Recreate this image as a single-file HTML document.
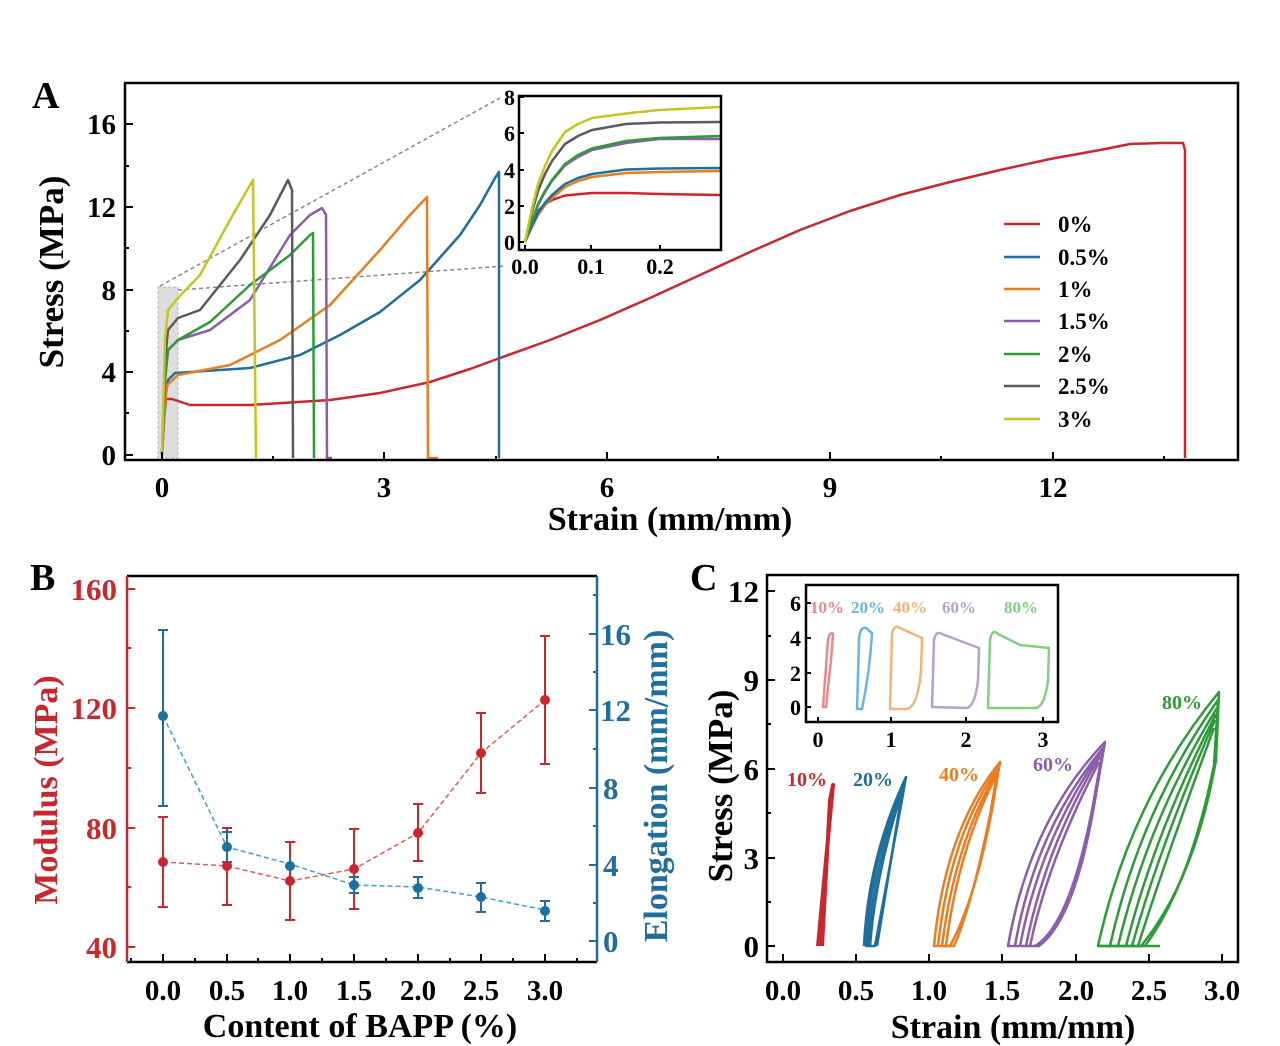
<!DOCTYPE html>
<html><head><meta charset="utf-8"><style>
body{margin:0;background:#fff}
svg{display:block}
text{font-family:"Liberation Serif",serif;font-weight:bold}
</style></head><body>
<svg width="1280" height="1046" viewBox="0 0 1280 1046" xmlns="http://www.w3.org/2000/svg">
<rect width="1280" height="1046" fill="#fff"/>
<!-- ===== Panel A ===== -->
<text x="32" y="108" font-size="38">A</text>
<rect x="158" y="287" width="20" height="171" fill="#ddd" stroke="#bbb" stroke-dasharray="3,2"/>
<line x1="160" y1="286" x2="500" y2="98" stroke="#888" stroke-width="1.5" stroke-dasharray="4,3"/>
<line x1="178" y1="290" x2="505" y2="266" stroke="#888" stroke-width="1.5" stroke-dasharray="4,3"/>
<g fill="none" stroke-width="2.5" stroke-linejoin="round">
<path stroke="#c8282d" d="M162,455 L164,420 L166,399 L172,399 L190,405 L250,405 L330,400 L380,393 L430,382 L470,369 L500,358 L550,340 L600,320 L650,298 L700,275 L750,252 L800,230 L850,211 L900,195 L950,182 L1000,170 L1050,159 L1100,150 L1130,144 L1160,143 L1183,143 L1185,150 L1185,458"/>
<path stroke="#1f6e9c" d="M162,455 L165,400 L168,380 L175,373 L250,368 L300,355 L340,335 L380,312 L420,280 L460,235 L480,205 L495,178 L499,172 L499,458"/>
<path stroke="#e87d22" d="M162,455 L165,405 L167,385 L178,375 L230,365 L280,340 L330,305 L380,250 L410,215 L427,197 L428,458 L438,458"/>
<path stroke="#8a5ea8" d="M162,455 L165,380 L168,350 L178,340 L210,330 L250,300 L290,235 L310,215 L322,208 L326,215 L327,458 L332,458"/>
<path stroke="#2e9a3a" d="M162,455 L165,380 L168,350 L178,340 L210,322 L250,285 L290,255 L310,235 L313,233 L314,458"/>
<path stroke="#5a5a5a" d="M162,455 L165,360 L168,330 L178,318 L200,310 L240,260 L270,215 L288,180 L292,190 L293,458"/>
<path stroke="#c5c520" d="M162,455 L165,340 L168,310 L178,298 L200,275 L230,220 L250,185 L253,180 L256,458"/>
</g>
<rect x="125" y="83" width="1113" height="377" fill="none" stroke="#000" stroke-width="2.5"/>
<g stroke="#000" stroke-width="2">
<line x1="162" y1="460" x2="162" y2="452"/><line x1="384" y1="460" x2="384" y2="452"/><line x1="607" y1="460" x2="607" y2="452"/><line x1="830" y1="460" x2="830" y2="452"/><line x1="1053" y1="460" x2="1053" y2="452"/>
<line x1="273" y1="460" x2="273" y2="456"/><line x1="496" y1="460" x2="496" y2="456"/><line x1="718" y1="460" x2="718" y2="456"/><line x1="941" y1="460" x2="941" y2="456"/><line x1="1164" y1="460" x2="1164" y2="456"/>
<line x1="125" y1="455" x2="133" y2="455"/><line x1="125" y1="372" x2="133" y2="372"/><line x1="125" y1="290" x2="133" y2="290"/><line x1="125" y1="207" x2="133" y2="207"/><line x1="125" y1="124" x2="133" y2="124"/>
<line x1="125" y1="413" x2="129" y2="413"/><line x1="125" y1="331" x2="129" y2="331"/><line x1="125" y1="248" x2="129" y2="248"/><line x1="125" y1="166" x2="129" y2="166"/>
</g>
<g font-size="29" text-anchor="middle">
<text x="162" y="497">0</text><text x="384" y="497">3</text><text x="607" y="497">6</text><text x="830" y="497">9</text><text x="1053" y="497">12</text>
</g>
<g font-size="29" text-anchor="end">
<text x="116" y="465">0</text><text x="116" y="382">4</text><text x="116" y="300">8</text><text x="116" y="217">12</text><text x="116" y="134">16</text>
</g>
<text x="670" y="530" font-size="34" text-anchor="middle">Strain (mm/mm)</text>
<text transform="translate(63,272) rotate(-90)" font-size="35" text-anchor="middle">Stress (MPa)</text>
<!-- legend -->
<g stroke-width="2.5">
<line x1="1004" y1="224" x2="1040" y2="224" stroke="#c8282d"/>
<line x1="1004" y1="257" x2="1040" y2="257" stroke="#1f6e9c"/>
<line x1="1004" y1="289" x2="1040" y2="289" stroke="#e87d22"/>
<line x1="1004" y1="321" x2="1040" y2="321" stroke="#8a5ea8"/>
<line x1="1004" y1="354" x2="1040" y2="354" stroke="#2e9a3a"/>
<line x1="1004" y1="386" x2="1040" y2="386" stroke="#5a5a5a"/>
<line x1="1004" y1="419" x2="1040" y2="419" stroke="#c5c520"/>
</g>
<g font-size="23">
<text x="1058" y="232">0%</text><text x="1058" y="265">0.5%</text><text x="1058" y="297">1%</text><text x="1058" y="329">1.5%</text><text x="1058" y="362">2%</text><text x="1058" y="394">2.5%</text><text x="1058" y="427">3%</text>
</g>
<!-- inset A -->
<rect x="519" y="96" width="202" height="154" fill="#fff"/>
<g fill="none" stroke-width="2.5" stroke-linejoin="round">
<path stroke="#c8282d" d="M525,242 L532,223 L538,211 L545,204 L552,200 L565,195.5 L592,193 L626,193 L659,194 L720,195"/>
<path stroke="#e87d22" d="M525,242 L532,227 L538,215 L545,205 L552,198 L565,187 L578,181 L592,177 L626,173 L659,172 L720,171"/>
<path stroke="#1f6e9c" d="M525,242 L532,226 L538,213 L545,203 L552,195 L565,184 L578,178 L592,174 L626,169.5 L659,168.5 L720,168"/>
<path stroke="#8a5ea8" d="M525,242 L532,221.5 L538,205 L545,192 L552,181 L565,165.5 L578,157 L592,150 L626,143 L659,139 L720,139"/>
<path stroke="#2e9a3a" d="M525,242 L532,221 L538,204 L545,191 L552,180 L565,164 L578,155 L592,148.5 L626,141 L659,138 L720,136"/>
<path stroke="#5a5a5a" d="M525,242 L532,212 L538,191 L545,174 L552,161 L565,144 L578,136 L592,130 L626,124 L659,122.5 L720,122"/>
<path stroke="#c5c520" d="M525,242 L532,208.5 L538,184 L545,166 L552,151 L565,132 L578,124 L592,118 L626,113.5 L659,110 L720,107"/>
</g>
<rect x="519" y="96" width="202" height="154" fill="none" stroke="#000" stroke-width="2.5"/>
<g stroke="#000" stroke-width="2">
<line x1="525" y1="250" x2="525" y2="245"/><line x1="591" y1="250" x2="591" y2="245"/><line x1="660" y1="250" x2="660" y2="245"/>
<line x1="519" y1="242" x2="524" y2="242"/><line x1="519" y1="206" x2="524" y2="206"/><line x1="519" y1="170" x2="524" y2="170"/><line x1="519" y1="133" x2="524" y2="133"/><line x1="519" y1="97" x2="524" y2="97"/>
</g>
<g font-size="22" text-anchor="end">
<text x="515" y="250">0</text><text x="515" y="214">2</text><text x="515" y="178">4</text><text x="515" y="141">6</text><text x="515" y="105">8</text>
</g>
<g font-size="22" text-anchor="middle">
<text x="525" y="274">0.0</text><text x="591" y="274">0.1</text><text x="660" y="274">0.2</text>
</g>
<!-- ===== Panel B ===== -->
<text x="30" y="590" font-size="38">B</text>
<line x1="127" y1="576" x2="597" y2="576" stroke="#000" stroke-width="2.5"/>
<line x1="127" y1="962" x2="597" y2="962" stroke="#000" stroke-width="2.5"/>
<line x1="127" y1="576" x2="127" y2="962" stroke="#c8282d" stroke-width="2.5"/>
<line x1="597" y1="576" x2="597" y2="962" stroke="#1f6e9c" stroke-width="2.5"/>
<g stroke="#000" stroke-width="2">
<line x1="163" y1="962" x2="163" y2="954"/><line x1="227" y1="962" x2="227" y2="954"/><line x1="290" y1="962" x2="290" y2="954"/><line x1="354" y1="962" x2="354" y2="954"/><line x1="418" y1="962" x2="418" y2="954"/><line x1="481" y1="962" x2="481" y2="954"/><line x1="545" y1="962" x2="545" y2="954"/>
<line x1="195" y1="962" x2="195" y2="958"/><line x1="258" y1="962" x2="258" y2="958"/><line x1="322" y1="962" x2="322" y2="958"/><line x1="386" y1="962" x2="386" y2="958"/><line x1="450" y1="962" x2="450" y2="958"/><line x1="513" y1="962" x2="513" y2="958"/><line x1="577" y1="962" x2="577" y2="958"/><line x1="131" y1="962" x2="131" y2="958"/>
</g>
<g stroke="#c8282d" stroke-width="2">
<line x1="127" y1="947" x2="135" y2="947"/><line x1="127" y1="828" x2="135" y2="828"/><line x1="127" y1="708" x2="135" y2="708"/><line x1="127" y1="589" x2="135" y2="589"/>
<line x1="127" y1="887" x2="131" y2="887"/><line x1="127" y1="768" x2="131" y2="768"/><line x1="127" y1="648" x2="131" y2="648"/>
</g>
<g stroke="#1f6e9c" stroke-width="2">
<line x1="589" y1="941" x2="597" y2="941"/><line x1="589" y1="865" x2="597" y2="865"/><line x1="589" y1="788" x2="597" y2="788"/><line x1="589" y1="710" x2="597" y2="710"/><line x1="589" y1="634" x2="597" y2="634"/>
<line x1="593" y1="903" x2="597" y2="903"/><line x1="593" y1="826" x2="597" y2="826"/><line x1="593" y1="749" x2="597" y2="749"/><line x1="593" y1="672" x2="597" y2="672"/><line x1="593" y1="595" x2="597" y2="595"/>
</g>
<g font-size="29" text-anchor="middle">
<text x="163" y="1000">0.0</text><text x="227" y="1000">0.5</text><text x="290" y="1000">1.0</text><text x="354" y="1000">1.5</text><text x="418" y="1000">2.0</text><text x="481" y="1000">2.5</text><text x="545" y="1000">3.0</text>
</g>
<g font-size="31" text-anchor="end" fill="#c8282d">
<text x="117" y="958">40</text><text x="117" y="839">80</text><text x="117" y="719">120</text><text x="117" y="600">160</text>
</g>
<g font-size="31" fill="#1f6e9c">
<text x="603" y="952">0</text><text x="603" y="876">4</text><text x="603" y="799">8</text><text x="600" y="721">12</text><text x="600" y="645">16</text>
</g>
<text x="360" y="1037" font-size="34" text-anchor="middle">Content of BAPP (%)</text>
<text transform="translate(57,790) rotate(-90)" font-size="34" text-anchor="middle" fill="#c8282d">Modulus (MPa)</text>
<text transform="translate(667,786) rotate(-90)" font-size="34" text-anchor="middle" fill="#1f6e9c">Elongation (mm/mm)</text>
<polyline fill="none" stroke="#e05a5a" stroke-width="1.5" stroke-dasharray="5,3" points="163,862 227,866 290,881 354,869 418,833 481,753 545,700"/>
<polyline fill="none" stroke="#3aa0d8" stroke-width="1.5" stroke-dasharray="5,3" points="163,716 227,847 290,864 354,885 418,887 481,897 545,910"/>
<g stroke="#c8282d" stroke-width="2">
<line x1="163" y1="907" x2="163" y2="817"/><line x1="158" y1="907" x2="168" y2="907"/><line x1="158" y1="817" x2="168" y2="817"/>
<line x1="227" y1="905" x2="227" y2="828"/><line x1="222" y1="905" x2="232" y2="905"/><line x1="222" y1="828" x2="232" y2="828"/>
<line x1="290" y1="920" x2="290" y2="842"/><line x1="285" y1="920" x2="295" y2="920"/><line x1="285" y1="842" x2="295" y2="842"/>
<line x1="354" y1="909" x2="354" y2="829"/><line x1="349" y1="909" x2="359" y2="909"/><line x1="349" y1="829" x2="359" y2="829"/>
<line x1="418" y1="861" x2="418" y2="804"/><line x1="413" y1="861" x2="423" y2="861"/><line x1="413" y1="804" x2="423" y2="804"/>
<line x1="481" y1="793" x2="481" y2="713"/><line x1="476" y1="793" x2="486" y2="793"/><line x1="476" y1="713" x2="486" y2="713"/>
<line x1="545" y1="764" x2="545" y2="636"/><line x1="540" y1="764" x2="550" y2="764"/><line x1="540" y1="636" x2="550" y2="636"/>
</g>
<g stroke="#1f6e9c" stroke-width="2">
<line x1="163" y1="806" x2="163" y2="630"/><line x1="158" y1="806" x2="168" y2="806"/><line x1="158" y1="630" x2="168" y2="630"/>
<line x1="227" y1="862" x2="227" y2="832"/><line x1="222" y1="862" x2="232" y2="862"/><line x1="222" y1="832" x2="232" y2="832"/>
<line x1="290" y1="870" x2="290" y2="858"/>
<line x1="354" y1="893" x2="354" y2="877"/><line x1="349" y1="893" x2="359" y2="893"/><line x1="349" y1="877" x2="359" y2="877"/>
<line x1="418" y1="898" x2="418" y2="877"/><line x1="413" y1="898" x2="423" y2="898"/><line x1="413" y1="877" x2="423" y2="877"/>
<line x1="481" y1="912" x2="481" y2="883"/><line x1="476" y1="912" x2="486" y2="912"/><line x1="476" y1="883" x2="486" y2="883"/>
<line x1="545" y1="921" x2="545" y2="901"/><line x1="540" y1="921" x2="550" y2="921"/><line x1="540" y1="901" x2="550" y2="901"/>
</g>
<g fill="#c8282d">
<circle cx="163" cy="862" r="5"/><circle cx="227" cy="866" r="5"/><circle cx="290" cy="881" r="5"/><circle cx="354" cy="869" r="5"/><circle cx="418" cy="833" r="5"/><circle cx="481" cy="753" r="5"/><circle cx="545" cy="700" r="5"/>
</g>
<g fill="#1f6e9c">
<circle cx="163" cy="716" r="5"/><circle cx="227" cy="847" r="5"/><circle cx="290" cy="866" r="5"/><circle cx="354" cy="885" r="5"/><circle cx="418" cy="888" r="5"/><circle cx="481" cy="897" r="5"/><circle cx="545" cy="911" r="5"/>
</g>
<!-- ===== Panel C ===== -->
<text x="690" y="590" font-size="38">C</text>
<rect x="767" y="575" width="471" height="387" fill="none" stroke="#000" stroke-width="2.5"/>
<g stroke="#000" stroke-width="2">
<line x1="783" y1="962" x2="783" y2="954"/><line x1="856" y1="962" x2="856" y2="954"/><line x1="929" y1="962" x2="929" y2="954"/><line x1="1002" y1="962" x2="1002" y2="954"/><line x1="1076" y1="962" x2="1076" y2="954"/><line x1="1149" y1="962" x2="1149" y2="954"/><line x1="1222" y1="962" x2="1222" y2="954"/>
<line x1="767" y1="946" x2="775" y2="946"/><line x1="767" y1="858" x2="775" y2="858"/><line x1="767" y1="769" x2="775" y2="769"/><line x1="767" y1="680" x2="775" y2="680"/><line x1="767" y1="591" x2="775" y2="591"/>
<line x1="767" y1="902" x2="771" y2="902"/><line x1="767" y1="813" x2="771" y2="813"/><line x1="767" y1="724" x2="771" y2="724"/><line x1="767" y1="636" x2="771" y2="636"/>
</g>
<g font-size="29" text-anchor="middle">
<text x="783" y="1000">0.0</text><text x="856" y="1000">0.5</text><text x="929" y="1000">1.0</text><text x="1002" y="1000">1.5</text><text x="1076" y="1000">2.0</text><text x="1149" y="1000">2.5</text><text x="1222" y="1000">3.0</text>
</g>
<g font-size="31" text-anchor="end">
<text x="759" y="957">0</text><text x="759" y="869">3</text><text x="759" y="780">6</text><text x="759" y="691">9</text><text x="759" y="602">12</text>
</g>
<text x="1013" y="1038" font-size="34" text-anchor="middle">Strain (mm/mm)</text>
<text transform="translate(732,786) rotate(-90)" font-size="35" text-anchor="middle">Stress (MPa)</text>
<g fill="none" stroke-width="2.5" stroke-linejoin="round">
<path stroke="#c8282d" stroke-width="4" d="M818,946 L826,860 L833,785 L830,800 L822,946"/>
<g stroke="#1f6e9c">
<path d="M866,946 Q870,860 906,777 L902,800 L875,946 Z"/>
<path d="M868,946 Q873,865 905,782 L900,805 L877,946"/>
<path d="M870,946 Q876,870 904,786"/>
<path d="M864,946 Q868,858 906,777"/>
</g>
<g stroke="#e87d22">
<path d="M934,946 Q945,830 1000,762 L992,810 Q975,900 950,946 Z"/>
<path d="M938,946 Q950,835 998,768 L990,815 Q972,905 954,946 L942,946"/>
<path d="M942,946 Q955,842 997,772"/>
<path d="M946,946 Q958,850 996,776"/>
</g>
<g stroke="#8a5ea8">
<path d="M1008,946 Q1030,820 1105,742 L1095,800 Q1075,920 1039,946 Z"/>
<path d="M1015,946 Q1035,830 1103,748 L1093,805 Q1070,925 1035,946"/>
<path d="M1020,946 Q1040,840 1101,752"/>
<path d="M1026,946 Q1045,848 1100,756"/>
<path d="M1030,946 Q1048,860 1099,762"/>
</g>
<g stroke="#2e9a3a">
<path d="M1098,946 Q1130,800 1219,692 L1216,760 Q1195,880 1141,946 Z"/>
<path d="M1110,946 Q1140,810 1218,700 L1214,765 Q1190,885 1145,946"/>
<path d="M1118,946 Q1148,820 1217,708"/>
<path d="M1126,946 Q1155,832 1216,714"/>
<path d="M1132,946 Q1160,845 1215,720"/>
<path d="M1138,946 Q1165,860 1214,728"/>
<line x1="1098" y1="946" x2="1160" y2="946"/>
</g>
</g>
<g font-size="20">
<text x="787" y="786" fill="#c8282d">10%</text>
<text x="853" y="786" fill="#1f6e9c">20%</text>
<text x="939" y="781" fill="#e87d22">40%</text>
<text x="1033" y="771" fill="#8a5ea8">60%</text>
<text x="1162" y="709" fill="#2e9a3a">80%</text>
</g>
<!-- inset C -->
<rect x="806" y="585" width="252" height="137" fill="#fff" stroke="#000" stroke-width="2.5"/>
<g fill="none" stroke-width="2.5" stroke-linejoin="round">
<path stroke="#e88a8a" d="M823,707 L828,640 Q830,631 833,634 L831,660 L826,707 Z"/>
<path stroke="#6ab4e0" d="M857,709 L859,640 Q860,626 866,628 L872,633 Q870,670 862,709 Z"/>
<path stroke="#f2b27a" d="M890,708 L892,634 Q894,624 900,628 L922,638 L921,670 Q918,706 907,709 L890,709 Z"/>
<path stroke="#b8a0cc" d="M932,707 L934,640 Q936,630 942,634 L979,648 L978,680 Q975,706 967,708 Z"/>
<path stroke="#80d080" d="M988,708 L990,640 Q992,628 998,634 L1020,645 L1049,648 L1048,680 Q1045,706 1036,708 Z"/>
</g>
<g stroke="#000" stroke-width="2">
<line x1="818" y1="722" x2="818" y2="717"/><line x1="891" y1="722" x2="891" y2="717"/><line x1="966" y1="722" x2="966" y2="717"/><line x1="1043" y1="722" x2="1043" y2="717"/>
<line x1="806" y1="707" x2="811" y2="707"/><line x1="806" y1="673" x2="811" y2="673"/><line x1="806" y1="638" x2="811" y2="638"/><line x1="806" y1="603" x2="811" y2="603"/>
</g>
<g font-size="22" text-anchor="end">
<text x="801" y="715">0</text><text x="801" y="681">2</text><text x="801" y="646">4</text><text x="801" y="611">6</text>
</g>
<g font-size="22" text-anchor="middle">
<text x="818" y="747">0</text><text x="891" y="747">1</text><text x="966" y="747">2</text><text x="1043" y="747">3</text>
</g>
<g font-size="17">
<text x="810" y="613" fill="#e88a8a">10%</text>
<text x="851" y="613" fill="#6ab4e0">20%</text>
<text x="893" y="613" fill="#f2b27a">40%</text>
<text x="942" y="613" fill="#b8a0cc">60%</text>
<text x="1004" y="613" fill="#80d080">80%</text>
</g>
</svg>
</body></html>
